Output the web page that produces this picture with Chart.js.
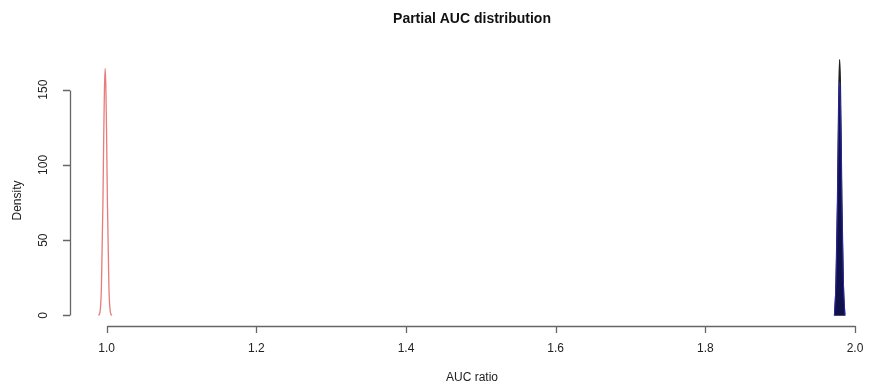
<!DOCTYPE html>
<html>
<head>
<meta charset="utf-8">
<script src="https://cdn.jsdelivr.net/npm/chart.js@4"></script>
<style>
  html, body { margin: 0; padding: 0; background: #fff; }
  #wrap { width: 869px; height: 387px; }
</style>
</head>
<body>
<div id="wrap"><canvas id="aucChart" width="869" height="387"></canvas></div>
<script>
// values
const titleText = "Partial AUC distribution";
const xTitle = "AUC ratio";
const yTitle = "Density";
const xTicks = [1.0, 1.2, 1.4, 1.6, 1.8, 2.0];
const yTicks = [0, 50, 100, 150];

// red density near 1.0
const redX = [0.989, 0.991, 0.993, 0.995, 0.996, 0.997, 0.998, 0.999, 1.000, 1.001, 1.003, 1.005, 1.007];
const redY = [0, 2, 19, 75, 116, 150, 164, 150, 116, 75, 19, 2, 0];

// black and blue spike near 1.98
const spikeX = [1.9725, 1.9745, 1.9765, 1.9775, 1.9785, 1.9795, 1.9805, 1.9815, 1.9825, 1.9845, 1.9865];
const blackY = [0, 20, 75, 118, 155, 170, 155, 118, 75, 20, 0];
const blueY = [0, 22, 72, 110, 142, 155, 142, 110, 72, 22, 0];

function toPoints(xs, ys) {
  return xs.map((x, i) => ({ x: x, y: ys[i] }));
}

const FONT = "'Liberation Sans', Arial, Helvetica, sans-serif";

// R-like axes, labels and title
const rAxes = {
  id: "rAxes",
  afterDraw(chart) {
    const ctx = chart.ctx;
    const xs = chart.scales.x;
    const ys = chart.scales.y;
    const area = chart.chartArea;
    const axisY = area.bottom;
    const axisX = area.left;
    ctx.save();
    ctx.strokeStyle = "#666";
    ctx.lineWidth = 1.3;
    ctx.fillStyle = "#222";

    // x axis
    const x0 = Math.round(xs.getPixelForValue(xTicks[0])) + 0.5;
    const x1 = Math.round(xs.getPixelForValue(xTicks[xTicks.length - 1])) + 0.5;
    ctx.beginPath();
    ctx.moveTo(x0, axisY + 0.5);
    ctx.lineTo(x1, axisY + 0.5);
    xTicks.forEach(t => {
      const px = Math.round(xs.getPixelForValue(t)) + 0.5;
      ctx.moveTo(px, axisY);
      ctx.lineTo(px, axisY + 7);
    });
    ctx.stroke();
    ctx.font = "12px " + FONT;
    ctx.textAlign = "center";
    ctx.textBaseline = "middle";
    xTicks.forEach(t => {
      ctx.fillText(t.toFixed(1), xs.getPixelForValue(t), 349);
    });

    // y axis
    const y0 = Math.round(ys.getPixelForValue(yTicks[0])) + 0.5;
    const y1 = Math.round(ys.getPixelForValue(yTicks[yTicks.length - 1])) + 0.5;
    ctx.beginPath();
    ctx.moveTo(axisX + 0.5, y0);
    ctx.lineTo(axisX + 0.5, y1);
    yTicks.forEach(t => {
      const py = Math.round(ys.getPixelForValue(t)) + 0.5;
      ctx.moveTo(axisX, py);
      ctx.lineTo(axisX - 7, py);
    });
    ctx.stroke();
    yTicks.forEach(t => {
      ctx.save();
      ctx.translate(44, ys.getPixelForValue(t));
      ctx.rotate(-Math.PI / 2);
      ctx.fillText(String(t), 0, 0);
      ctx.restore();
    });

    // axis titles
    ctx.fillText(xTitle, 472, 378);
    ctx.save();
    ctx.translate(18, (area.top + area.bottom) / 2 + 13);
    ctx.rotate(-Math.PI / 2);
    ctx.fillText(yTitle, 0, 0);
    ctx.restore();

    // main title
    ctx.fillStyle = "#111";
    ctx.font = "bold 14px " + FONT;
    ctx.fillText(titleText, 472, 19);
    ctx.restore();
  }
};

new Chart(document.getElementById("aucChart").getContext("2d"), {
  type: "line",
  data: {
    datasets: [
      {
        label: "red",
        data: toPoints(redX, redY),
        borderColor: "rgba(228, 100, 100, 0.85)",
        borderWidth: 1.3,
        pointRadius: 0,
        fill: false,
        cubicInterpolationMode: "monotone",
        order: 3,
      },
      {
        label: "black",
        data: toPoints(spikeX, blackY),
        borderColor: "#222",
        backgroundColor: "#111",
        borderWidth: 1.2,
        pointRadius: 0,
        fill: "origin",
        cubicInterpolationMode: "monotone",
        order: 2,
      },
      {
        label: "blue",
        data: toPoints(spikeX, blueY),
        borderColor: "#2a2ab0",
        backgroundColor: "#10104a",
        borderWidth: 1,
        pointRadius: 0,
        fill: "origin",
        cubicInterpolationMode: "monotone",
        order: 1,
      },
    ],
  },
  options: {
    responsive: false,
    animation: false,
    layout: {
      padding: { left: 70, right: 0, top: 49, bottom: 61 },
    },
    scales: {
      x: { type: "linear", min: 0.951, max: 2.0187, display: false },
      y: { type: "linear", min: -7, max: 177, display: false },
    },
    plugins: {
      legend: { display: false },
      tooltip: { enabled: false },
      title: { display: false },
    },
  },
  plugins: [rAxes],
});
</script>
</body>
</html>
